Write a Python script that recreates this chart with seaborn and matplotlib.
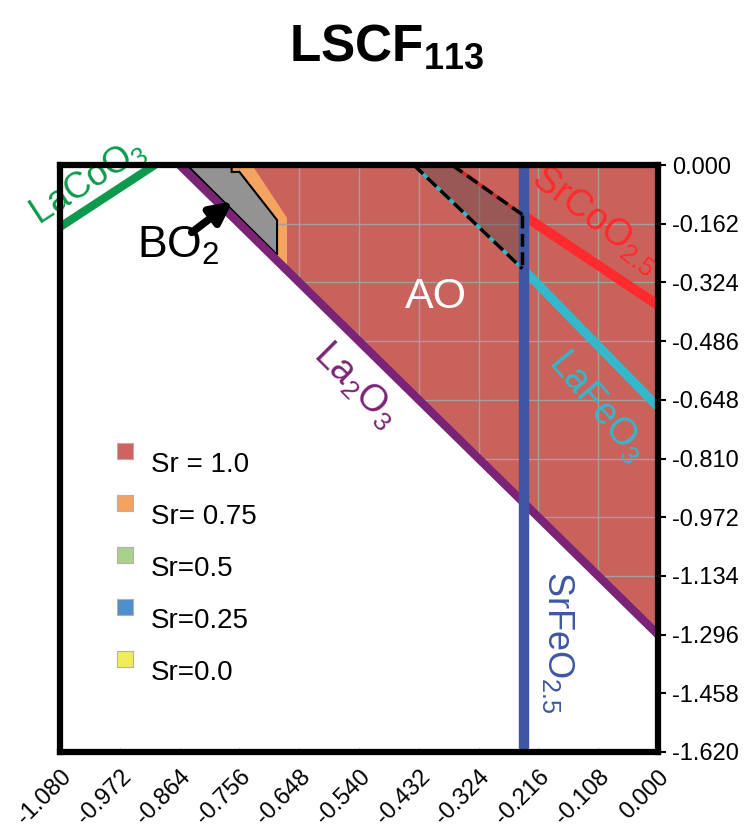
import numpy as np
import pandas as pd
import matplotlib
matplotlib.use("Agg")
import matplotlib.pyplot as plt
import seaborn as sns

# ---------------- data ----------------
x_ticks = [-1.080, -0.972, -0.864, -0.756, -0.648, -0.540, -0.432, -0.324, -0.216, -0.108, 0.000]
y_ticks = [0.000, -0.162, -0.324, -0.486, -0.648, -0.810, -0.972, -1.134, -1.296, -1.458, -1.620]

# stability boundary lines
la2o3_x = [-0.864, 0.000]
la2o3_y = [0.000, -1.296]
lacoo3_x = [-1.080, -0.909]
lacoo3_y = [-0.171, 0.000]
srfeo_x = [-0.242, -0.242]
srfeo_y = [0.000, -1.620]
srcoo_x = [-0.242, 0.000]
srcoo_y = [-0.140, -0.387]
srcoo_meta_x = [-0.372, -0.245]
srcoo_meta_y = [0.000, -0.137]
lafeo_x = [-0.242, 0.000]
lafeo_y = [-0.290, -0.668]
lafeo_meta_x = [-0.441, -0.245]
lafeo_meta_y = [0.000, -0.286]
meta_edge_x = [-0.245, -0.245]
meta_edge_y = [-0.137, -0.286]

# stability regions
ao_x = [-0.864, 0.000, 0.000]
ao_y = [0.000, 0.000, -1.296]
sr075_x = [-0.864, -0.733, -0.670, -0.670]
sr075_y = [0.000, 0.000, -0.146, -0.291]
bo2_x = [-0.851, -0.770, -0.770, -0.756, -0.688, -0.688]
bo2_y = [0.000, 0.000, -0.019, -0.019, -0.152, -0.248]
meta_x = [-0.441, -0.372, -0.245, -0.245]
meta_y = [0.000, 0.000, -0.137, -0.286]

legend_labels = ["Sr = 1.0", "Sr= 0.75", "Sr=0.5", "Sr=0.25", "Sr=0.0"]
legend_colors = ["#d06262", "#f4a262", "#a9d18e", "#5090c8", "#f0ec5c"]

# ---------------- style ----------------
sns.set_theme(style="white")
plt.rcParams["font.family"] = ["Liberation Sans", "DejaVu Sans"]
plt.rcParams["mathtext.fontset"] = "custom"
plt.rcParams["mathtext.rm"] = "Liberation Sans"
plt.rcParams["mathtext.it"] = "Liberation Sans"
plt.rcParams["mathtext.bf"] = "Liberation Sans:bold"
plt.rcParams["text.color"] = "black"
plt.rcParams["xtick.color"] = "black"
plt.rcParams["ytick.color"] = "black"
plt.rcParams["xtick.labelcolor"] = "black"
plt.rcParams["ytick.labelcolor"] = "black"

fig = plt.figure(figsize=(7.46, 8.35), dpi=100)
ax = fig.add_axes([60 / 746, 83 / 835, 598 / 746, 587 / 835])
ax.set_xlim(-1.08, 0.0)
ax.set_ylim(-1.62, 0.0)

# regions
ao_patch = ax.fill(ao_x, ao_y, color="#ca625c", lw=0, zorder=1)[0]
ax.fill(sr075_x, sr075_y, color="#f4a460", lw=0, zorder=1.2)

# grid only inside the AO region
for xv in x_ticks:
    ln = ax.axvline(xv, color="#a0a0a0", lw=1.0, zorder=1.5)
    ln.set_clip_path(ao_patch)
for yv in y_ticks:
    ln = ax.axhline(yv, color="#a0a0a0", lw=1.0, zorder=1.5)
    ln.set_clip_path(ao_patch)

ax.fill(meta_x, meta_y, color="#5e4c4c", alpha=0.45, lw=0, zorder=1.6)
ax.fill(bo2_x, bo2_y, facecolor="#939393", edgecolor="black", lw=1.5, zorder=1.8)

def line(x, y, color, lw, z, ls="-"):
    sns.lineplot(x=x, y=y, ax=ax, color=color, linewidth=lw, sort=False,
                 estimator=None, linestyle=ls, zorder=z,
                 solid_capstyle="butt", dash_capstyle="butt")

# metastable (dashed) boundaries
line(srcoo_meta_x, srcoo_meta_y, "#d0302a", 2.5, 2.5)
line(lafeo_meta_x, lafeo_meta_y, "#30b8c8", 2.5, 2.5)

# main boundary lines
line(la2o3_x, la2o3_y, "#7b2477", 6.0, 3)
line(lacoo3_x, lacoo3_y, "#0e9a4c", 6.0, 3)
line(srcoo_x, srcoo_y, "#ff2a2e", 7.0, 3)
line(lafeo_x, lafeo_y, "#33b8cc", 6.5, 3)
line(srfeo_x, srfeo_y, "#3f57a2", 7.5, 3.2)

line(srcoo_meta_x, srcoo_meta_y, "black", 2.5, 3.5, "--")
line(lafeo_meta_x, lafeo_meta_y, "black", 2.5, 3.5, "--")
line(meta_edge_x, meta_edge_y, "black", 2.5, 3.5, "--")

# arrow to BO2
ax.annotate("", xy=(-0.768, -0.100), xytext=(-0.842, -0.186),
            arrowprops=dict(arrowstyle="-|>", lw=5.5, color="black",
                            mutation_scale=32, shrinkA=0, shrinkB=0),
            zorder=4)

# labels
ax.text(-1.030, -0.045, r"LaCoO$_3$", color="#0e9a4c", fontsize=26,
        rotation=33, ha="center", va="center", zorder=4)
ax.text(-0.866, -0.222, r"BO$_2$", color="black", fontsize=32,
        ha="center", va="center", zorder=4)
ax.text(-0.401, -0.364, "AO", color="white", fontsize=31,
        ha="center", va="center", zorder=4)
ax.text(-0.547, -0.607, r"La$_2$O$_3$", color="#7b2477", fontsize=27,
        rotation=-45, ha="center", va="center", zorder=4)
ax.text(-0.112, -0.152, r"SrCoO$_{2.5}$", color="#ff2a2e", fontsize=27,
        rotation=-37, ha="center", va="center", zorder=4)
ax.text(-0.110, -0.665, r"LaFeO$_3$", color="#33b8cc", fontsize=27,
        rotation=-50, ha="center", va="center", zorder=4)
ax.text(-0.181, -1.318, r"SrFeO$_{2.5}$", color="#3f57a2", fontsize=26,
        rotation=-90, ha="center", va="center", zorder=4)

# legend drawn manually
for i, (lab, col) in enumerate(zip(legend_labels, legend_colors)):
    yy = 0.513 - i * 0.0886
    ax.scatter([0.109], [yy], marker="s", s=130, color=col,
               edgecolor="#b8b0a8", linewidth=0.8, transform=ax.transAxes, zorder=4)
    ax.text(0.152, yy - 0.024, lab, transform=ax.transAxes, fontsize=20,
            ha="left", va="center", color="black", zorder=4)

# axes styling
for sp in ax.spines.values():
    sp.set_visible(True)
    sp.set_color("black")
    sp.set_linewidth(4.5)
    sp.set_zorder(5)

ax.set_xticks(x_ticks)
ax.set_yticks(y_ticks)
ax.set_xticklabels([f"{v:.3f}" for v in x_ticks], rotation=45, ha="right",
                   rotation_mode="anchor", fontsize=17)
ax.set_yticklabels([f"{v:.3f}" for v in y_ticks], fontsize=17)
ax.yaxis.tick_right()
ax.tick_params(axis="y", which="both", right=True, left=False, direction="out",
               length=6, width=1.5, color="black", pad=4, labelcolor="black")
ax.tick_params(axis="x", which="both", bottom=True, direction="in",
               length=3, width=0.8, color="#999999", pad=10, labelcolor="black")
ax.grid(False)

fig.text(0.519, 0.943, r"LSCF$_{\mathbf{113}}$", fontsize=37, fontweight="bold",
         ha="center", va="center", color="black")

fig.savefig("out.png", dpi=100)
